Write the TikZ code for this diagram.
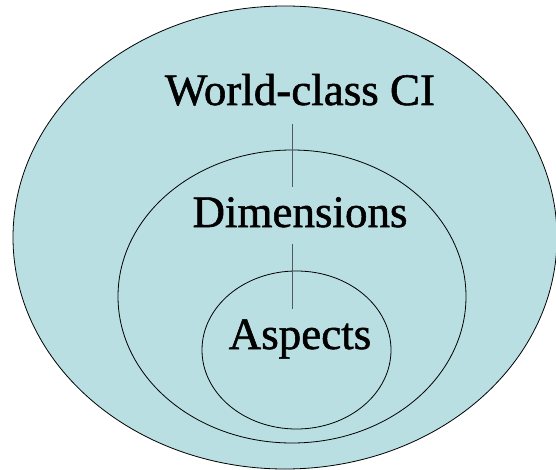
\documentclass[tikz,border=0pt]{standalone}
\usepackage{fontspec}
\setmainfont{Liberation Serif}
\newfontfamily\levelfont[FakeBold=1.2]{Liberation Serif}
\usetikzlibrary{shapes.geometric}
\definecolor{ovalfill}{RGB}{185,223,227}
\definecolor{linkgray}{RGB}{78,90,96}

\begin{document}
\begin{tikzpicture}[x=1pt, y=-1pt,
  oval/.style={ellipse, draw=black, line width=0.8pt, fill=ovalfill, inner sep=0pt},
  levelname/.style={inner sep=0pt, anchor=base, font=\levelfont\fontsize{45}{54}\selectfont},
  link/.style={draw=linkgray, line width=1pt}]
  \useasboundingbox (0,0) rectangle (556,470);
  % Nodes
  \node [oval, minimum width=544pt, minimum height=463pt] (outer) at (285,237.5) {};
  \node [oval, minimum width=348pt, minimum height=293pt] (middle) at (292,296.5) {};
  \node [oval, minimum width=189pt, minimum height=158pt] (inner) at (296.5,350) {};
  \node [levelname] (world) at (300,105) {World-class CI};
  \node [levelname] (dims) at (300,227) {Dimensions};
  \node [levelname] (aspects) at (300,349) {Aspects};

  % Edges
  \draw[link] ([xshift=-8pt, yshift=-18pt]world.south) -- ([xshift=-8pt, yshift=10pt]dims.north);
  \draw[link] ([xshift=-8pt, yshift=-16pt]dims.south) -- ([xshift=-8pt, yshift=10pt]aspects.north);
\end{tikzpicture}
\end{document}
